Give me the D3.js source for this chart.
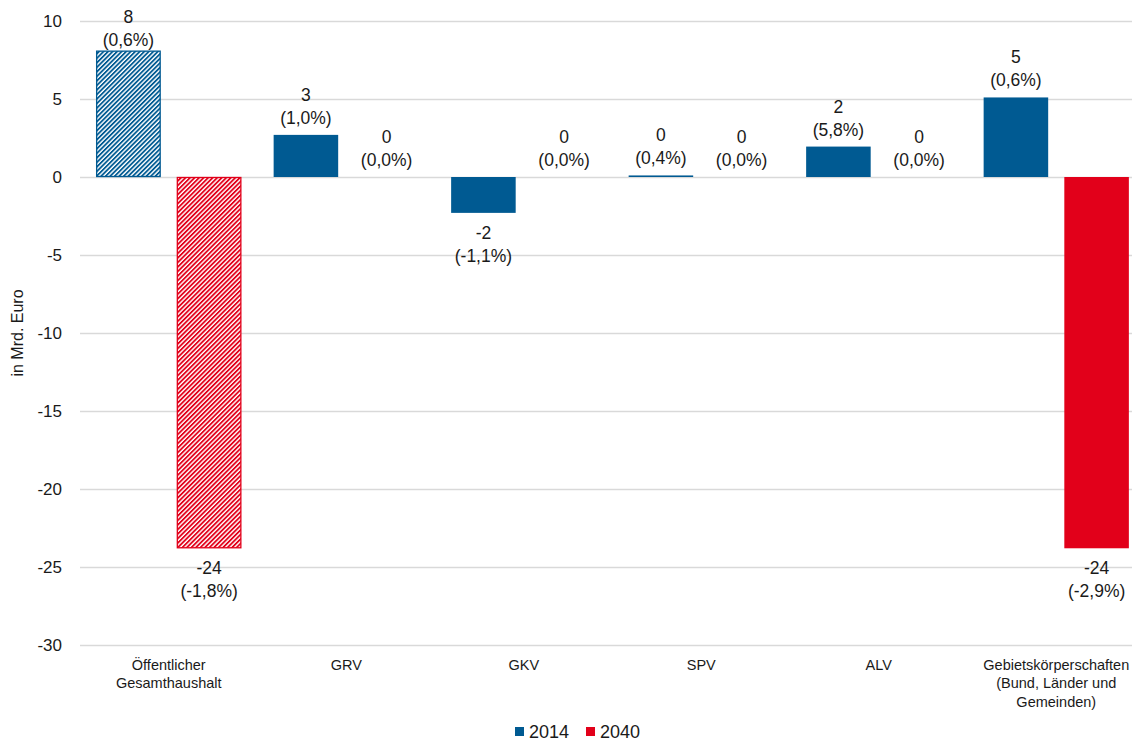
<!DOCTYPE html>
<html>
<head>
<meta charset="utf-8">
<script src="https://cdnjs.cloudflare.com/ajax/libs/d3/7.8.5/d3.min.js"></script>
<style>
  body { margin: 0; background: #fff; }
  text { font-family: "Liberation Sans", Arial, sans-serif; fill: #1a1a1a; }
</style>
</head>
<body>
<div id="chart"></div>
<script>
// data
var categories = ["Öffentlicher\nGesamthaushalt", "GRV", "GKV", "SPV", "ALV", "Gebietskörperschaften\n(Bund, Länder und\nGemeinden)"]
var series = ["2014", "2040"]
var values2014 = [8.1, 2.7, -2.3, 0.1, 1.95, 5.1]
var values2040 = [-23.8, 0, 0, 0, 0, -23.8]
var labels2014 = ["8\n(0,6%)", "3\n(1,0%)", "-2\n(-1,1%)", "0\n(0,4%)", "2\n(5,8%)", "5\n(0,6%)"]
var labels2040 = ["-24\n(-1,8%)", "0\n(0,0%)", "0\n(0,0%)", "0\n(0,0%)", "0\n(0,0%)", "-24\n(-2,9%)"]
var hatched = [true, false, false, false, false, false]
var yTicks = [10, 5, 0, -5, -10, -15, -20, -25, -30]

var colors = {"2014": "#005a92", "2040": "#e2001a"}

var width = 1132, height = 743
var margin = {top: 21, left: 80, bottom: 98}

var svg = d3.select("#chart").append("svg")
    .attr("width", width)
    .attr("height", height)

// hatch patterns
var defs = svg.append("defs")
series.forEach(function(s) {
  var p = defs.append("pattern")
      .attr("id", "hatch" + s)
      .attr("patternUnits", "userSpaceOnUse")
      .attr("width", 3.2).attr("height", 3.2)
      .attr("patternTransform", "rotate(45)")
  p.append("rect").attr("width", 3.2).attr("height", 3.2).attr("fill", "#fff")
  p.append("rect").attr("width", 1.8).attr("height", 3.2).attr("fill", colors[s])
})

var y = d3.scaleLinear()
    .domain([-30, 10])
    .range([645, 21])

var x0 = d3.scaleBand()
    .domain(categories)
    .range([margin.left, margin.left + 6 * 177.5])

var x1 = d3.scaleBand()
    .domain(series)
    .range([0, x0.bandwidth()])
    .paddingInner(0.2)
    .paddingOuter(0.2)

// grid
svg.append("g")
  .attr("transform", "translate(" + margin.left + ",0)")
  .call(d3.axisLeft(y).tickValues(yTicks).tickSize(-(width)).tickFormat(""))
  .call(function(g) { g.select(".domain").remove() })
  .selectAll(".tick line").attr("stroke", "#d9d9d9").attr("stroke-width", 1.3)

// y tick labels
svg.selectAll(".ylab")
  .data(yTicks)
  .enter().append("text")
    .attr("x", 62)
    .attr("y", function(d) { return y(d) + 6 })
    .attr("text-anchor", "end")
    .style("font-size", "17px")
    .text(function(d) { return d })

svg.append("text")
  .attr("transform", "translate(23," + 333 + ") rotate(-90)")
  .attr("text-anchor", "middle")
  .style("font-size", "16px")
  .text("in Mrd. Euro")

var rows = []
categories.forEach(function(c, i) {
  rows.push({cat: c, s: "2014", v: values2014[i], label: labels2014[i], hatch: hatched[i]})
  rows.push({cat: c, s: "2040", v: values2040[i], label: labels2040[i], hatch: hatched[i]})
})

// bars
svg.selectAll(".bar")
  .data(rows.filter(function(d) { return d.v !== 0 }))
  .enter().append("rect")
    .attr("x", function(d) { return x0(d.cat) + x1(d.s) + (d.hatch ? 0.5 : 0) })
    .attr("y", function(d) { return y(Math.max(0, d.v)) + (d.hatch ? 0.5 : 0) })
    .attr("width", function(d) { return x1.bandwidth() - (d.hatch ? 1 : 0) })
    .attr("height", function(d) { return Math.max(1, Math.abs(y(d.v) - y(0))) - (d.hatch ? 1 : 0) })
    .attr("fill", function(d) { return d.hatch ? "url(#hatch" + d.s + ")" : colors[d.s] })
    .attr("stroke", function(d) { return d.hatch ? colors[d.s] : "none" })
    .attr("stroke-width", 1.3)

// value labels
var lab = svg.selectAll(".vlab")
  .data(rows)
  .enter().append("text")
    .attr("text-anchor", "middle")
    .style("font-size", "17.5px")
    .attr("transform", function(d) {
      var cx = x0(d.cat) + x1(d.s) + x1.bandwidth() / 2
      var b
      if (d.v >= 0) b = Math.max(y(d.v) - 34, 23)
      else b = y(d.v) + 26
      return "translate(" + cx + "," + b + ")"
    })
lab.selectAll("tspan")
  .data(function(d) { return d.label.split("\n") })
  .enter().append("tspan")
    .attr("x", 0)
    .attr("dy", function(d, i) { return i ? 23 : 0 })
    .text(function(d) { return d })

// category labels
var cl = svg.selectAll(".clab")
  .data(categories)
  .enter().append("text")
    .attr("text-anchor", "middle")
    .style("font-size", "14.5px")
    .attr("transform", function(d) { return "translate(" + (x0(d) + x0.bandwidth() / 2) + ",670)" })
cl.selectAll("tspan")
  .data(function(d) { return d.split("\n") })
  .enter().append("tspan")
    .attr("x", 0)
    .attr("dy", function(d, i) { return i ? 18.3 : 0 })
    .text(function(d) { return d })

// legend
var leg = svg.selectAll(".leg")
  .data(series)
  .enter().append("g")
    .attr("transform", function(d, i) { return "translate(" + (515 + i * 71) + ",727)" })
leg.append("rect").attr("width", 9).attr("height", 9).attr("fill", function(d) { return colors[d] })
leg.append("text").attr("x", 14).attr("y", 11).style("font-size", "18px").text(function(d) { return d })
</script>
</body>
</html>
